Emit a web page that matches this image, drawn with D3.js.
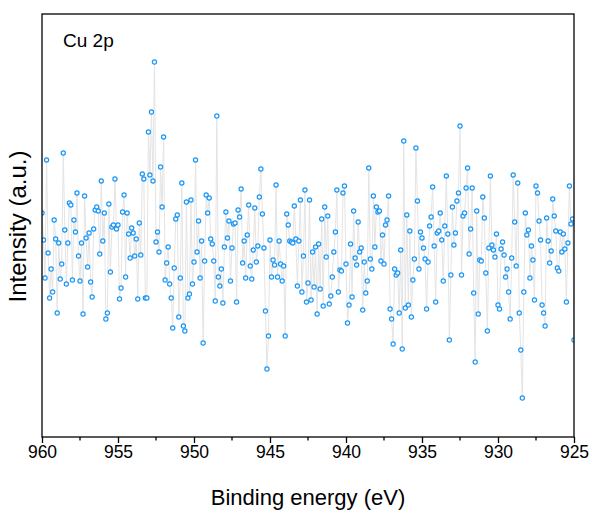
<!DOCTYPE html>
<html>
<head>
<meta charset="utf-8">
<script src="https://cdn.jsdelivr.net/npm/d3@7"></script>
<style>
  html, body { margin: 0; padding: 0; background: #fff; }
  svg { display: block; }
  text { font-family: "Liberation Sans", Arial, sans-serif; fill: #000; }
</style>
</head>
<body>
<svg id="chart" width="592" height="513"></svg>
<script>
// ---- data ----
const energyStart = 960;   // eV
const energyStep = -0.1;   // eV
const xTickValues = [960, 955, 950, 945, 940, 935, 930, 925];
const xMinorTicks = [957.5, 952.5, 947.5, 942.5, 937.5, 932.5, 927.5];
const panelLabel = "Cu 2p";
const xTitle = "Binding energy (eV)";
const yTitle = "Intensity (a.u.)";
const intensity = [
  223,196,158,276,183,138,167,144,216,197,123,193,157,172,283,206,152,193,233,231,
  156,216,204,243,180,155,193,122,240,198,169,203,154,139,207,226,229,225,182,255,
  195,223,117,123,232,164,209,211,257,207,211,137,148,224,241,159,223,202,178,
  208,203,180,197,137,213,181,262,257,138,138,304,261,324,255,374,194,204,184,269,
  229,299,156,173,189,152,138,108,168,217,221,119,158,253,110,105,234,138,142,236,
  152,174,276,184,215,158,195,93,175,241,223,238,197,192,175,135,320,159,150,167,
  133,189,224,198,215,155,188,212,213,134,226,219,247,173,195,158,201,231,170,157,
  186,228,174,190,239,267,222,188,125,67,100,196,159,176,171,251,159,195,172,155,
  170,100,222,211,195,194,193,230,197,150,195,236,144,180,246,134,153,236,136,184,
  149,189,122,192,147,217,130,229,179,220,132,140,159,184,204,246,144,166,165,243,
  250,172,113,131,192,139,225,178,171,214,184,188,126,174,143,155,268,177,167,240,
  189,229,224,225,175,201,172,211,216,240,127,117,92,167,161,163,123,186,87,
  295,128,221,131,205,119,156,177,288,235,167,204,198,188,177,127,174,210,219,249,
  190,134,203,205,223,196,155,210,260,202,96,161,229,191,203,235,243,310,161,220,
  223,248,268,182,207,248,143,74,225,122,176,175,239,218,163,105,188,260,191,
  186,179,202,131,127,187,194,181,159,167,144,117,178,261,214,170,253,123,86,38,
  144,223,201,206,158,190,176,136,250,243,215,196,131,123,110,218,195,173,185,237,
  220,205,168,165,204,184,202,187,134,193,250,212,217,96
];
const yDomain = [-1, 422];

// ---- layout ----
const margin = { left: 42, right: 574, top: 14, bottom: 437 };
const svg = d3.select("#chart");

const x = d3.scaleLinear().domain([960, 925]).range([margin.left, margin.right]);
const y = d3.scaleLinear().domain(yDomain).range([margin.bottom, margin.top]);

const data = intensity.map((v, i) => ({ e: +(energyStart + energyStep * i).toFixed(1), v }));

const clipId = "plotclip";
svg.append("defs").append("clipPath").attr("id", clipId)
  .append("rect")
  .attr("x", margin.left).attr("y", margin.top)
  .attr("width", margin.right - margin.left)
  .attr("height", margin.bottom - margin.top);

const plot = svg.append("g").attr("clip-path", `url(#${clipId})`);

// connecting line
plot.append("path")
  .datum(data)
  .attr("fill", "none")
  .attr("stroke", "#e4e4e4")
  .attr("stroke-width", 1)
  .attr("d", d3.line().x(d => x(d.e)).y(d => y(d.v)));

// markers
plot.selectAll("circle")
  .data(data)
  .join("circle")
  .attr("cx", d => x(d.e))
  .attr("cy", d => y(d.v))
  .attr("r", 2.1)
  .attr("fill", "#fff")
  .attr("stroke", "#1b97f5")
  .attr("stroke-width", 1.2);

// frame
svg.append("rect")
  .attr("x", margin.left).attr("y", margin.top)
  .attr("width", margin.right - margin.left)
  .attr("height", margin.bottom - margin.top)
  .attr("fill", "none")
  .attr("stroke", "#000")
  .attr("stroke-width", 1.3);

// bottom axis
const xAxis = d3.axisBottom(x)
  .tickValues(xTickValues)
  .tickFormat(d3.format("d"))
  .tickSize(6)
  .tickSizeOuter(0)
  .tickPadding(2.5);
const gx = svg.append("g")
  .attr("transform", `translate(0,${margin.bottom})`)
  .call(xAxis);
gx.select(".domain").remove();
gx.selectAll(".tick line").attr("stroke", "#000").attr("stroke-width", 1.3);
gx.selectAll(".tick text")
  .style("font-family", '"Liberation Sans", Arial, sans-serif')
  .style("font-size", "17.5px")
  .attr("fill", "#000");

// minor ticks
svg.append("g")
  .selectAll("line")
  .data(xMinorTicks)
  .join("line")
  .attr("x1", d => x(d)).attr("x2", d => x(d))
  .attr("y1", margin.bottom).attr("y2", margin.bottom + 3.5)
  .attr("stroke", "#000").attr("stroke-width", 1.3);

// titles
svg.append("text")
  .attr("x", (margin.left + margin.right) / 2)
  .attr("y", 505)
  .attr("text-anchor", "middle")
  .style("font-size", "22px")
  .text(xTitle);

svg.append("text")
  .attr("transform", `translate(26,${(margin.top + margin.bottom) / 2 + 1}) rotate(-90)`)
  .attr("text-anchor", "middle")
  .style("font-size", "24px")
  .text(yTitle);

svg.append("text")
  .attr("x", 63)
  .attr("y", 47)
  .style("font-size", "19px")
  .text(panelLabel);
</script>
</body>
</html>
